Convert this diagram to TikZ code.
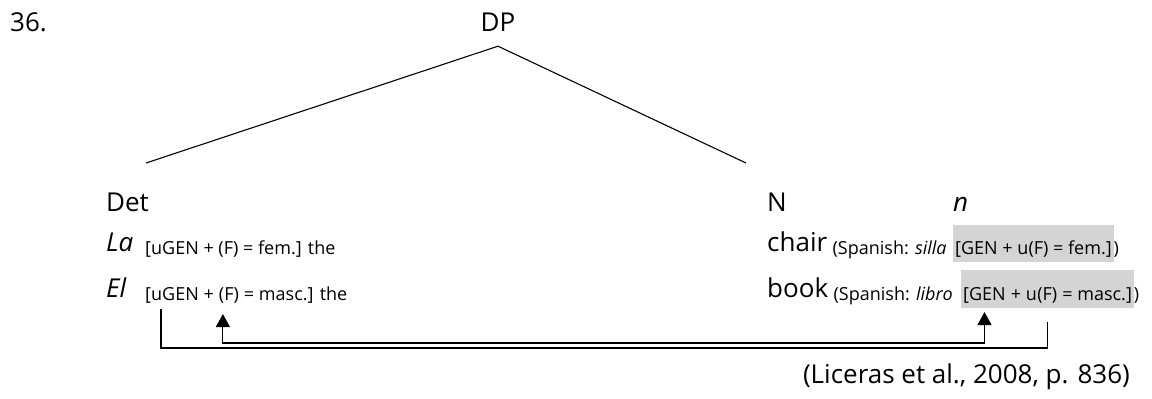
\documentclass[tikz,border=0pt]{standalone}
\usepackage{fontspec}
\setmainfont{Open Sans}
\usepackage{tikz}
\usetikzlibrary{arrows.meta,positioning,fit,backgrounds}

\tikzset{
  big/.style={font=\fontsize{26}{30}\selectfont,inner sep=0pt,anchor=base west},
  sml/.style={font=\fontsize{18}{21}\selectfont,inner sep=0pt,anchor=base west},
  hl/.style={fill=chl,draw=none,inner xsep=2pt,inner ysep=0pt},
  tline/.style={line width=1.1pt,color=cln},
}

\begin{document}
\begin{tikzpicture}[x=1pt,y=-1pt]
%
\useasboundingbox (0,0) rectangle (1152,399);
%
\definecolor{chl}{rgb}{0.83,0.83,0.83}
\definecolor{cln}{rgb}{0.0,0.0,0.0}
%
\node[big] (ex) at (10,31) {36.};
\node[big,anchor=base,inner ysep=15pt] (dp) at (498,31) {DP};
\coordinate (detleg) at (146,163);
\coordinate (nleg) at (746,163);
\draw[tline] (detleg) -- (dp.south) -- (nleg);
%
% left branch
\node[big] (det) at (106,211) {Det};
\node[big] (la) at (106,251) {\itshape La};
\node[sml] (lafeat) at (145,254) {[uGEN + (F) = fem.] the};
\node[big] (el) at (106,297) {\itshape El};
\node[sml] (elgen) at (145,300) {[uGEN +};
\node[sml,base right=4.7pt of elgen] (elf) {(F)};
\node[sml,base right=4.7pt of elf] (elrest) {= masc.] the};
%
% right branch
\node[big] (nn) at (767,211) {N};
\node[big] (lown) at (953,211) {\itshape n};
\node[big] (chair) at (767,251) {chair};
\node[sml,base right=5pt of chair,yshift=-3pt] (chsp) {(Spanish: \textit{silla}};
\node[sml] (chgen) at (955,254) {[GEN + u(F) = fem.]};
\node[sml,base right=1.5pt of chgen] (chend) {)};
\node[big] (book) at (767,297) {book};
\node[sml,base right=5pt of book,yshift=-3pt] (bksp) {(Spanish: \textit{libro}};
\node[sml] (bkgen) at (963,300) {[GEN};
\node[sml,base right=4.7pt of bkgen] (bku) {+ u};
\node[sml,base right=0pt of bku] (bkf) {(F)};
\node[sml,base right=4.7pt of bkf] (bkrest) {= masc.]};
\node[sml,base right=1.5pt of bkrest] (bkend) {)};
%
\begin{scope}[on background layer]
\node[hl,fit={([yshift=29pt]chgen.base west) ([yshift=-8pt]chgen.base east)}] (chbox) {};
\node[hl,fit={([yshift=30pt]bkgen.base west) ([yshift=-8pt]bkrest.base east)}] (bkbox) {};
\end{scope}
%
% agreement links
\coordinate (railin) at (0,343);
\coordinate (railout) at (0,348);
\draw[tline,{Triangle[width=14pt,length=13pt]}-{Triangle[width=14pt,length=13pt]},shorten <=11pt,shorten >=9pt]
  ([xshift=-6pt]elf.south) |- (railin -| bkgen.south) -- (bkgen.south);
\draw[tline,shorten <=6pt,shorten >=19pt]
  ([xshift=16pt]elgen.south west) |- (railout -| bkf.south) -- (bkf.south);
%
\node[big,anchor=base east] (cite) at (1130,383) {(Liceras et al., 2008, p. 836)};
%
\end{tikzpicture}
\end{document}
